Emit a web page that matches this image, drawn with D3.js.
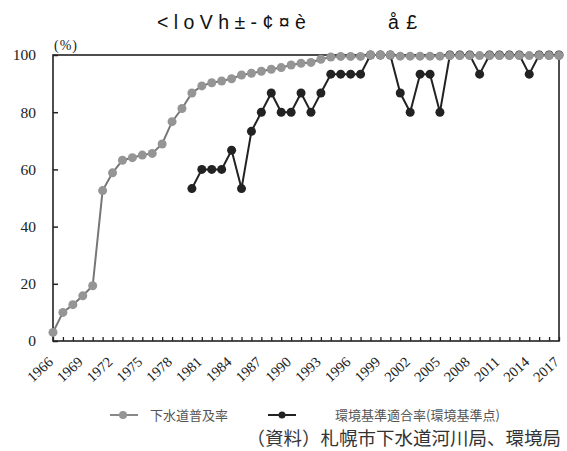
<!DOCTYPE html>
<html>
<head>
<meta charset="utf-8">
<script src="https://cdn.jsdelivr.net/npm/d3@7"></script>
<style>
  body { margin: 0; background: #fff; }
  svg { display: block; }
</style>
</head>
<body>
<svg id="chart" width="567" height="451"></svg>
<script>
// years on the x axis
const years = d3.range(1966, 2018);
const yearLabels = d3.range(1966, 2018, 3);
const yTicks = [0, 20, 40, 60, 80, 100];

// 下水道普及率 (1966-2017)
const sewerRate = [
  3, 10, 12.7, 15.8, 19.3, 52.6, 58.8, 63.2, 64.1, 65, 65.6, 68.9, 76.7, 81.3,
  86.7, 89.2, 90.3, 90.9, 91.7, 93, 93.6, 94.3, 95, 95.6, 96.5, 97.1, 97.4,
  98.5, 99.3, 99.5, 99.5, 99.5, 100, 100, 100, 99.6, 99.6, 99.6, 99.6, 99.6,
  99.8, 99.8, 99.8, 99.8, 99.8, 99.8, 99.8, 99.8, 99.8, 99.8, 99.8, 99.8
];

// 環境基準適合率 (1980-2017)
const envYears = d3.range(1980, 2018);
const envRate = [
  53.3, 60, 60, 60, 66.7, 53.3, 73.3, 80, 86.7, 80, 80, 86.7, 80, 86.7,
  93.3, 93.3, 93.3, 93.3, 100, 100, 100, 86.7, 80, 93.3, 93.3, 80,
  100, 100, 100, 93.3, 100, 100, 100, 100, 93.3, 100, 100, 100
];

const svg = d3.select("#chart");
const margin = { top: 55, right: 8, bottom: 110, left: 53 };
const width = 567 - margin.left - margin.right;
const height = 451 - margin.top - margin.bottom;

const x = d3.scaleLinear().domain([1966, 2017]).range([0, width]);
const y = d3.scaleLinear().domain([0, 100]).range([height, 0]);

const g = svg.append("g").attr("transform", `translate(${margin.left},${margin.top})`);

// title (as it appears in the source)
const titleFont = "Liberation Sans, Arial, sans-serif";
svg.append("text")
  .attr("x", 157).attr("y", 29)
  .attr("font-family", titleFont)
  .attr("font-size", 19.5)
  .attr("fill", "#111")
  .text("< l o V h ± - ¢ ¤ è");
svg.append("text")
  .attr("x", 388).attr("y", 29)
  .attr("font-family", titleFont)
  .attr("font-size", 19.5).attr("letter-spacing", 1)
  .attr("fill", "#111")
  .text("å £");

// frame
g.append("rect")
  .attr("width", width).attr("height", height)
  .attr("fill", "none").attr("stroke", "#222").attr("stroke-width", 1.6);

// y axis
const yAxis = g.append("g")
  .call(d3.axisLeft(y).tickValues(yTicks).tickSize(-5).tickPadding(17));
yAxis.select(".domain").remove();
yAxis.selectAll("line").attr("stroke", "#222").attr("stroke-width", 1.5);
yAxis.selectAll("text")
  .attr("font-family", "Liberation Serif, DejaVu Serif, serif")
  .attr("font-size", 15.5).attr("fill", "#222");

g.append("text")
  .attr("x", 1).attr("y", -5)
  .attr("font-family", "Liberation Serif, serif")
  .attr("font-size", 14).attr("letter-spacing", 1).attr("fill", "#222")
  .text("(%)");

// x axis
const xAxis = g.append("g")
  .attr("transform", `translate(0,${height})`)
  .call(d3.axisBottom(x).tickValues(years).tickSize(-4).tickFormat(""));
xAxis.select(".domain").remove();
xAxis.selectAll("line").attr("stroke", "#222").attr("stroke-width", 1.3);

g.append("g")
  .selectAll("text")
  .data(yearLabels)
  .enter().append("text")
  .attr("transform", d => `translate(${x(d) + 1},${height + 22}) rotate(-43)`)
  .attr("text-anchor", "end")
  .attr("font-family", "Liberation Serif, DejaVu Serif, serif")
  .attr("font-size", 14.5).attr("fill", "#222")
  .text(d => d);

const line = d3.line().x(d => x(d[0])).y(d => y(d[1]));

// 下水道普及率
const sewerData = years.map((yr, i) => [yr, sewerRate[i]]);
// 環境基準適合率
const envData = envYears.map((yr, i) => [yr, envRate[i]]);

g.append("path").datum(envData)
  .attr("d", line).attr("fill", "none")
  .attr("stroke", "#222").attr("stroke-width", 2);
g.selectAll("circle.env").data(envData).enter().append("circle")
  .attr("class", "env")
  .attr("cx", d => x(d[0])).attr("cy", d => y(d[1]))
  .attr("r", 4.5).attr("fill", "#222");

g.append("path").datum(sewerData)
  .attr("d", line).attr("fill", "none")
  .attr("stroke", "#777").attr("stroke-width", 2);
g.selectAll("circle.sewer").data(sewerData).enter().append("circle")
  .attr("class", "sewer")
  .attr("cx", d => x(d[0])).attr("cy", d => y(d[1]))
  .attr("r", 4.5).attr("fill", "#959595");

// legend
const legendFont = "Noto Sans CJK JP, sans-serif";
const legend = svg.append("g").attr("transform", "translate(0,415)");
legend.append("line").attr("x1", 110).attr("x2", 138).attr("stroke", "#888").attr("stroke-width", 2);
legend.append("circle").attr("cx", 123).attr("r", 4).attr("fill", "#959595");
legend.append("text").attr("x", 150).attr("dy", "0.36em")
  .attr("font-family", legendFont)
  .attr("font-size", 13).attr("fill", "#555")
  .text("下水道普及率");
legend.append("line").attr("x1", 268).attr("x2", 296).attr("stroke", "#222").attr("stroke-width", 2);
legend.append("circle").attr("cx", 282).attr("r", 3.5).attr("fill", "#222");
legend.append("text").attr("x", 335).attr("dy", "0.36em")
  .attr("font-family", legendFont)
  .attr("font-size", 13).attr("fill", "#555")
  .text("環境基準適合率(環境基準点)");

// source
svg.append("text")
  .attr("x", 561).attr("y", 445)
  .attr("text-anchor", "end")
  .attr("font-family", legendFont)
  .attr("font-size", 18.5).attr("fill", "#333")
  .text("（資料）札幌市下水道河川局、環境局");
</script>
</body>
</html>
